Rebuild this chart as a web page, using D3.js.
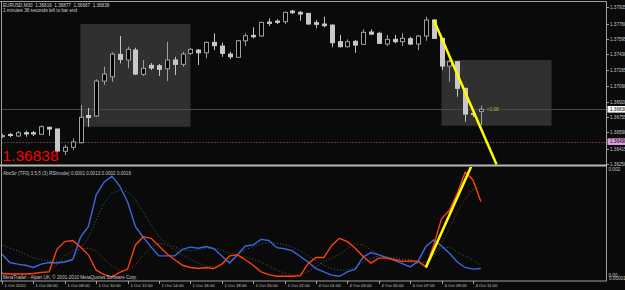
<!DOCTYPE html>
<html><head><meta charset="utf-8">
<script src="https://cdn.jsdelivr.net/npm/d3@7"></script>
<style>html,body{margin:0;padding:0;background:#0a0a0a;overflow:hidden}</style>
</head><body><svg id="c" width="625" height="290"></svg>
<script>
// ---------- DATA ----------
const titleText = "EURUSD,M30  1.36816  1.36877  1.36667  1.36838";
const timerText = "1 minutes 36 seconds left to bar end";
const indicatorTitle = "AbsStr (TF0) 3,5,5 (3) RSImode) 0.0001 0.0013 0.0002 0.0016";
const copyrightText = "MetaTrader - Alpari UK, \u00A9 2001-2010 MetaQuotes Software Corp.";
const timeLabels = ["1 Oct 2010","1 Oct 06:00","1 Oct 08:00","1 Oct 10:00","1 Oct 12:00","1 Oct 14:00",
  "1 Oct 16:00","1 Oct 18:00","1 Oct 20:00","1 Oct 22:00","4 Oct 01:00","4 Oct 03:00","4 Oct 05:00",
  "4 Oct 07:00","4 Oct 09:00","4 Oct 11:00"];
const timeLabelBars = [0,4,8,12,16,20,24,28,32,36,40,44,48,52,56,60];
const priceTicks = [1.37935,1.37760,1.37595,1.37430,1.37265,1.37090,1.36920,1.36755,1.36590,1.36415,1.36250];
const bidPrice = 1.36838;
const alertPrice = 1.36490;
const timerLabel = "<1:38";

const opens = [1.36546,1.36567,1.36551,1.36586,1.36586,1.36569,1.36645,1.36626,1.36387,1.36430,
  1.36479,1.36771,1.36766,1.37142,1.37188,1.37429,1.37368,1.37475,1.37214,1.37311,
  1.37307,1.37274,1.37368,1.37322,1.37440,1.37475,1.37446,1.37558,1.37518,1.37432,
  1.37397,1.37575,1.37633,1.37626,1.37776,1.37787,1.37780,1.37895,1.37881,1.37870,
  1.37769,1.37755,1.37744,1.37565,1.37511,1.37569,1.37537,1.37669,1.37655,1.37540,
  1.37590,1.37565,1.37597,1.37540,1.37626,1.37798,1.37601,1.37303,1.37350,1.37064,
  1.36793,1.36816];
const highs = [1.36573,1.36583,1.36605,1.36608,1.36605,1.36666,1.36651,1.36632,1.36454,1.36526,
  1.36884,1.36852,1.37160,1.37296,1.37451,1.37626,1.37511,1.37500,1.37368,1.37336,
  1.37325,1.37565,1.37403,1.37457,1.37497,1.37486,1.37565,1.37655,1.37554,1.37457,
  1.37583,1.37655,1.37720,1.37780,1.37816,1.37805,1.37887,1.37906,1.37895,1.37873,
  1.37798,1.37833,1.37750,1.37637,1.37590,1.37583,1.37698,1.37698,1.37672,1.37637,
  1.37637,1.37655,1.37618,1.37637,1.37833,1.37809,1.37604,1.37368,1.37357,1.37067,
  1.36809,1.36877];
const lows = [1.36530,1.36540,1.36540,1.36543,1.36551,1.36562,1.36554,1.36379,1.36347,1.36401,
  1.36473,1.36651,1.36755,1.37099,1.37135,1.37332,1.37279,1.37207,1.37196,1.37260,
  1.37196,1.37142,1.37207,1.37296,1.37422,1.37314,1.37386,1.37475,1.37403,1.37379,
  1.37395,1.37518,1.37601,1.37618,1.37733,1.37755,1.37755,1.37863,1.37791,1.37750,
  1.37709,1.37720,1.37505,1.37505,1.37505,1.37446,1.37529,1.37637,1.37540,1.37518,
  1.37547,1.37518,1.37529,1.37475,1.37575,1.37594,1.37260,1.37135,1.36973,1.36705,
  1.36755,1.36667];
const closes = [1.36556,1.36556,1.36586,1.36573,1.36573,1.36651,1.36626,1.36390,1.36430,1.36487,
  1.36752,1.36750,1.37142,1.37217,1.37432,1.37375,1.37483,1.37217,1.37279,1.37282,
  1.37268,1.37368,1.37322,1.37432,1.37483,1.37446,1.37558,1.37522,1.37440,1.37403,
  1.37575,1.37629,1.37618,1.37773,1.37762,1.37773,1.37881,1.37877,1.37863,1.37755,
  1.37752,1.37737,1.37554,1.37511,1.37565,1.37529,1.37666,1.37647,1.37547,1.37590,
  1.37565,1.37601,1.37540,1.37626,1.37798,1.37601,1.37303,1.37350,1.37064,1.36787,
  1.36782,1.36838];

// AbsStr indicator buffers
const bullLine = [0.00045,0.00030,0.00027,0.00025,0.00021,0.00027,0.00030,0.00029,0.00031,0.00035,
  0.00076,0.00095,0.00153,0.00176,0.00187,0.00169,0.00140,0.00095,0.00076,0.00058,
  0.00042,0.00042,0.00042,0.00054,0.00058,0.00056,0.00059,0.00055,0.00042,0.00029,
  0.00044,0.00060,0.00062,0.00072,0.00070,0.00057,0.00055,0.00051,0.00041,0.00031,
  0.00019,0.00013,0.00007,0.00005,0.00013,0.00018,0.00040,0.00048,0.00044,0.00039,
  0.00034,0.00028,0.00022,0.00032,0.00059,0.00071,0.00060,0.00047,0.00031,0.00021,
  0.00018,0.00019];
const bearLine = [0.00010,0.00009,0.00009,0.00009,0.00010,0.00012,0.00013,0.00054,0.00068,0.00070,
  0.00058,0.00044,0.00016,0.00008,0.00004,0.00012,0.00018,0.00062,0.00077,0.00074,
  0.00060,0.00046,0.00035,0.00025,0.00021,0.00019,0.00021,0.00019,0.00027,0.00042,
  0.00044,0.00035,0.00025,0.00013,0.00008,0.00005,0.00005,0.00005,0.00006,0.00028,
  0.00039,0.00039,0.00061,0.00074,0.00068,0.00056,0.00041,0.00029,0.00038,0.00038,
  0.00035,0.00032,0.00033,0.00032,0.00022,0.00062,0.00110,0.00125,0.00156,0.00194,
  0.00180,0.00141];
const bullSignal = [0.00062,0.00056,0.00051,0.00045,0.00038,0.00035,0.00033,0.00032,0.00033,0.00036,
  0.00056,0.00075,0.00107,0.00138,0.00156,0.00162,0.00158,0.00144,0.00122,0.00098,
  0.00076,0.00065,0.00058,0.00053,0.00051,0.00053,0.00056,0.00056,0.00053,0.00047,
  0.00045,0.00053,0.00059,0.00064,0.00066,0.00065,0.00062,0.00058,0.00051,0.00042,
  0.00033,0.00025,0.00019,0.00016,0.00016,0.00022,0.00031,0.00038,0.00042,0.00041,
  0.00037,0.00034,0.00030,0.00028,0.00031,0.00045,0.00056,0.00058,0.00049,0.00042,
  0.00035,0.00025];
const bearSignal = [0.00011,0.00010,0.00009,0.00009,0.00010,0.00011,0.00015,0.00027,0.00042,0.00051,
  0.00055,0.00056,0.00051,0.00036,0.00024,0.00016,0.00014,0.00025,0.00044,0.00058,
  0.00065,0.00062,0.00053,0.00044,0.00036,0.00029,0.00024,0.00022,0.00027,0.00035,
  0.00040,0.00040,0.00036,0.00031,0.00024,0.00016,0.00011,0.00007,0.00008,0.00013,
  0.00022,0.00031,0.00038,0.00045,0.00056,0.00064,0.00062,0.00053,0.00044,0.00040,
  0.00038,0.00036,0.00035,0.00033,0.00025,0.00042,0.00065,0.00093,0.00122,0.00145,
  0.00164,0.00167];

// chart objects (bar index, price)
const boxStartBar = [10, 56], boxEndBar = [24, 70];
const boxTopPrice = [1.37755, 1.37368], boxBottomPrice = [1.36651, 1.36662];
const trendMainBars = [55, 63], trendMainPrices = [1.37798, 1.36245];
const trendIndBars = [54, 60], trendIndValues = [0.00021, 0.00212];
const indAxisLabels = ["0.002", "0.00", "0.00001"];

// ---------- LAYOUT ----------
const L = 1.5, R = 606.5, mainTop = 1.5, mainBot = 165.5, indTop = 167, indBot = 281;
const FONT = "'Liberation Sans', Arial, sans-serif";
const svg = d3.select("#c");
svg.append("rect").attr("width",625).attr("height",290).attr("fill","#0a0a0a");

const n = opens.length;
const x = d3.scaleLinear().domain([0, n-1]).range([2, 480.85]);
const y = d3.scaleLinear().domain([1.36250, 1.37935]).range([164, 7.3]);
const yi = d3.scaleLinear().domain([0, 0.002]).range([279, 169]);

const defs = svg.append("defs");
defs.append("clipPath").attr("id","cm").append("rect").attr("x",L).attr("y",mainTop).attr("width",R-L).attr("height",mainBot-mainTop);
defs.append("clipPath").attr("id","ci").append("rect").attr("x",L).attr("y",indTop).attr("width",R-L).attr("height",indBot-indTop);

const gm = svg.append("g").attr("clip-path","url(#cm)");
const gi = svg.append("g").attr("clip-path","url(#ci)");

// boxes
boxStartBar.forEach((b,k)=>{
  gm.append("rect").attr("x",x(b)).attr("y",y(boxTopPrice[k]))
    .attr("width",x(boxEndBar[k])-x(b)).attr("height",y(boxBottomPrice[k])-y(boxTopPrice[k]))
    .attr("fill","#303030");
});

// bid & alert lines
gm.append("line").attr("x1",L).attr("x2",R).attr("y1",Math.round(y(bidPrice))+0.5).attr("y2",Math.round(y(bidPrice))+0.5)
  .attr("stroke","#4a4a4a").attr("stroke-width",1);
gm.append("line").attr("x1",L).attr("x2",R).attr("y1",Math.round(y(alertPrice))+0.5).attr("y2",Math.round(y(alertPrice))+0.5)
  .attr("stroke","#b0607a").attr("stroke-width",1).attr("stroke-dasharray","1,2");

// candles
const idx = d3.range(n);
const cx = i => Math.round(x(i)) + 0.5;
gm.selectAll("line.wick").data(idx).join("line").attr("class","wick")
  .attr("x1",cx).attr("x2",cx).attr("y1",i=>y(highs[i])).attr("y2",i=>y(lows[i]))
  .attr("stroke",i=>closes[i]>=opens[i]?"#a0a0a0":"#c4c4c4").attr("stroke-width",1);
gm.selectAll("rect.body").data(idx).join("rect").attr("class","body")
  .attr("x",i=>cx(i)-2).attr("width",4)
  .attr("y",i=>Math.min(y(opens[i]),y(closes[i])))
  .attr("height",i=>Math.max(1,Math.abs(y(opens[i])-y(closes[i]))))
  .attr("fill",i=>closes[i]>=opens[i]?"#000":"#c8c8c8")
  .attr("stroke",i=>closes[i]>=opens[i]?"#a0a0a0":"#c8c8c8").attr("stroke-width",1);

// main trend line
gm.append("line").attr("x1",x(trendMainBars[0])).attr("y1",y(trendMainPrices[0]))
  .attr("x2",x(trendMainBars[1])).attr("y2",y(trendMainPrices[1]))
  .attr("stroke","#ffff00").attr("stroke-width",2.5);

// timer label
gm.append("text").attr("x",x(n-1)+6).attr("y",y(bidPrice)+1.5).text(timerLabel)
  .attr("fill","#b4b43c").attr("font-size",4.6).attr("font-family",FONT);

// titles
svg.append("text").attr("x",3).attr("y",7.3).text(titleText).attr("fill","#d0d0d0").attr("font-size",4.6).attr("font-family",FONT).attr("xml:space","preserve");
svg.append("text").attr("x",3).attr("y",12.3).text(timerText).attr("fill","#d0d0d0").attr("font-size",4.6).attr("font-family",FONT);
svg.append("text").attr("x",2.5).attr("y",161).text(d3.format(".5f")(bidPrice)).attr("fill","#ff0000").attr("font-size",15.5).attr("font-family",FONT);

// indicator lines
const line = arr => d3.line().x((d,i)=>x(i)).y(d=>yi(d))(arr);
gi.append("path").attr("d",line(bullSignal)).attr("fill","none").attr("stroke","#3e6470").attr("stroke-width",1).attr("stroke-dasharray","1,2");
gi.append("path").attr("d",line(bearSignal)).attr("fill","none").attr("stroke","#8a4a1e").attr("stroke-width",1).attr("stroke-dasharray","1,2");
gi.append("path").attr("d",line(bullLine)).attr("fill","none").attr("stroke","#3c68e0").attr("stroke-width",1.4);
gi.append("path").attr("d",line(bearLine)).attr("fill","none").attr("stroke","#ff4010").attr("stroke-width",1.4);
gi.append("line").attr("x1",x(trendIndBars[0])).attr("y1",yi(trendIndValues[0]))
  .attr("x2",x(trendIndBars[1])).attr("y2",yi(trendIndValues[1]))
  .attr("stroke","#ffff00").attr("stroke-width",2.5);

svg.append("text").attr("x",3).attr("y",174.5).text(indicatorTitle).attr("fill","#c8c8c8").attr("font-size",4.6).attr("font-family",FONT);
svg.append("text").attr("x",3).attr("y",278.5).text(copyrightText).attr("fill","#c8c8c8").attr("font-size",4.6).attr("font-family",FONT);

// frames
const fr = "#a0a0a0";
svg.append("line").attr("x1",0).attr("x2",R).attr("y1",mainTop).attr("y2",mainTop).attr("stroke",fr);
svg.append("line").attr("x1",L).attr("x2",L).attr("y1",mainTop).attr("y2",indBot).attr("stroke",fr);
svg.append("line").attr("x1",R).attr("x2",R).attr("y1",mainTop).attr("y2",indBot).attr("stroke",fr);
svg.append("line").attr("x1",0).attr("x2",R).attr("y1",mainBot).attr("y2",mainBot).attr("stroke","#b8b8b8").attr("stroke-width",2);
svg.append("line").attr("x1",0).attr("x2",R).attr("y1",indBot).attr("y2",indBot).attr("stroke",fr);

// price axis
const pa = svg.append("g").attr("font-family",FONT).attr("font-size",4.6);
priceTicks.forEach(p=>{
  const yy = Math.round(y(p))+0.5;
  pa.append("line").attr("x1",R).attr("x2",R+2.5).attr("y1",yy).attr("y2",yy).attr("stroke",fr);
  pa.append("text").attr("x",R+3.5).attr("y",yy+1.7).text(d3.format(".5f")(p)).attr("fill","#c8c8c8");
});
[[bidPrice,"#ffffff"],[alertPrice,"#dda0dd"]].forEach(([p,c])=>{
  const yy = y(p);
  pa.append("rect").attr("x",R+1).attr("y",yy-3.3).attr("width",625-R).attr("height",6.6).attr("fill",c);
  pa.append("text").attr("x",R+3.5).attr("y",yy+1.7).text(d3.format(".5f")(p)).attr("fill","#000");
});
// indicator axis
pa.append("text").attr("x",R+2).attr("y",yi(0.002)+2.3).text(indAxisLabels[0]).attr("fill","#c8c8c8");
pa.append("text").attr("x",R+2).attr("y",yi(0)-2.5).text(indAxisLabels[1]).attr("fill","#c8c8c8");
pa.append("text").attr("x",R+2.5).attr("y",yi(0)+0.5).text(indAxisLabels[2]).attr("fill","#c8c8c8");

// time axis
const ta = svg.append("g").attr("font-family",FONT).attr("font-size",4.3);
timeLabelBars.forEach((b,k)=>{
  const xx = Math.round(x(b))+0.5;
  ta.append("line").attr("x1",xx).attr("x2",xx).attr("y1",indBot).attr("y2",indBot+3).attr("stroke",fr);
  ta.append("text").attr("x",xx+2).attr("y",287.3).text(timeLabels[k]).attr("fill","#c8c8c8");
});
</script></body></html>
